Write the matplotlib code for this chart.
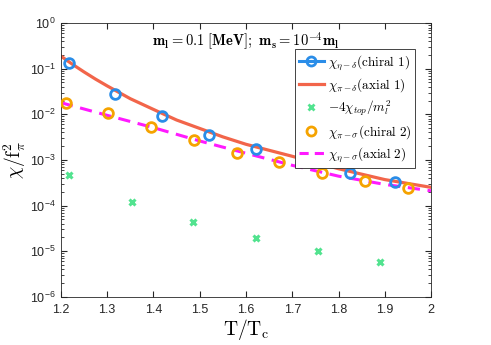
import numpy as np
import matplotlib.pyplot as plt
from matplotlib.lines import Line2D

plt.rcParams['mathtext.fontset'] = 'cm'
plt.rcParams['font.family'] = ['Liberation Sans', 'DejaVu Sans']

##### data #####
T_chiral1 = [1.217, 1.318, 1.419, 1.520, 1.622, 1.723, 1.824, 1.923]
chi_chiral1 = [0.135, 0.0285, 0.0090, 0.0036, 0.0017, 0.00093, 0.00052, 0.00032]

T_chiral2 = [1.210, 1.302, 1.395, 1.487, 1.580, 1.672, 1.765, 1.857, 1.950]
chi_chiral2 = [0.0180, 0.0108, 0.0052, 0.0027, 0.0014, 0.00089, 0.00052, 0.00035, 0.000245]

T_top = [1.217, 1.353, 1.486, 1.621, 1.755, 1.890]
chi_top = [4.6e-4, 1.17e-4, 4.3e-5, 1.95e-5, 1.02e-5, 5.9e-6]

T_axial1 = [1.20, 1.225, 1.25, 1.275, 1.30, 1.35, 1.40, 1.45, 1.50, 1.55, 1.60, 1.70, 1.80, 1.90, 2.00]
chi_axial1 = [0.189, 0.125, 0.085, 0.059, 0.042, 0.022, 0.0128, 0.0075, 0.0049, 0.0032, 0.0022,
              0.0012, 0.00064, 0.00037, 0.00025]

T_axial2 = [1.20, 1.30, 1.40, 1.50, 1.60, 1.70, 1.80, 1.90, 2.00]
chi_axial2 = [0.0180, 0.0095, 0.0051, 0.0026, 0.0014, 0.00076, 0.00044, 0.00029, 0.00021]
################

c_blue = '#2a8de8'
c_red = '#f2654a'
c_green = '#52e38f'
c_orange = '#f5a300'
c_mag = '#ff1aff'

fig = plt.figure(figsize=(4.91, 3.45), dpi=100)
ax = fig.add_axes([0.124, 0.140, 0.754, 0.793])

ax.plot(T_axial1, chi_axial1, '-', color=c_red, lw=2.3, zorder=2)
ax.plot(T_axial2, chi_axial2, '--', color=c_mag, lw=2.2, dashes=(4, 2.5), zorder=2)
ax.plot(T_chiral1, chi_chiral1, 'o', color=c_blue, mfc='none', ms=7, mew=2.0, zorder=3)
ax.plot(T_top, chi_top, 'x', color=c_green, ms=5, mew=2.2, zorder=3)
ax.plot(T_chiral2, chi_chiral2, 'o', color=c_orange, mfc='none', ms=7, mew=2.0, zorder=3)

ax.set_yscale('log')
ax.set_xlim(1.2, 2.0)
ax.set_ylim(1e-6, 1)
ax.set_xticks([1.2, 1.3, 1.4, 1.5, 1.6, 1.7, 1.8, 1.9, 2.0])
ax.set_xticklabels(['1.2', '1.3', '1.4', '1.5', '1.6', '1.7', '1.8', '1.9', '2'])
ax.tick_params(which='both', direction='in', top=True, right=True, labelsize=9, colors='#262626')
ax.tick_params(which='major', length=4)
ax.tick_params(which='minor', length=2)
ax.tick_params(axis='x', pad=5)
for s in ax.spines.values():
    s.set_color('#262626')
    s.set_linewidth(0.6)

ax.set_xlabel(r'$\mathrm{T/T_c}$', fontsize=14, labelpad=1)
ax.set_ylabel(r'$\chi/\mathrm{f}_\pi^2$', fontsize=14, labelpad=2)

ax.text(0.5, 0.935, r'$\mathbf{m_l = 0.1\ [MeV];\ m_s = 10^{-4} m_l}$', transform=ax.transAxes,
        ha='center', va='center', fontsize=10.5)

handles = [
    Line2D([], [], color=c_blue, lw=2.2, marker='o', mfc='none', ms=6.5, mew=2.0),
    Line2D([], [], color=c_red, lw=2.3),
    Line2D([], [], color=c_green, ls='none', marker='x', ms=4.5, mew=2.0),
    Line2D([], [], color=c_orange, ls='none', marker='o', mfc='none', ms=6.5, mew=2.0),
    Line2D([], [], color=c_mag, lw=2.2, ls='--', dashes=(3, 2)),
]
labels = [r'$\chi_{\eta-\delta}(\mathrm{chiral\ 1})$',
          r'$\chi_{\pi-\delta}(\mathrm{axial\ 1})$',
          r'$-4\chi_{top}/m_l^2$',
          r'$\chi_{\pi-\sigma}(\mathrm{chiral\ 2})$',
          r'$\chi_{\eta-\sigma}(\mathrm{axial\ 2})$']
leg = ax.legend(handles, labels, loc='upper right', bbox_to_anchor=(0.9575, 0.905), fontsize=9.5,
                fancybox=False, edgecolor='#262626', framealpha=1, handlelength=1.9,
                handletextpad=0.3, borderpad=0.3, labelspacing=0.35, borderaxespad=0)
leg.get_frame().set_linewidth(0.6)

plt.savefig('out.png', dpi=100)
